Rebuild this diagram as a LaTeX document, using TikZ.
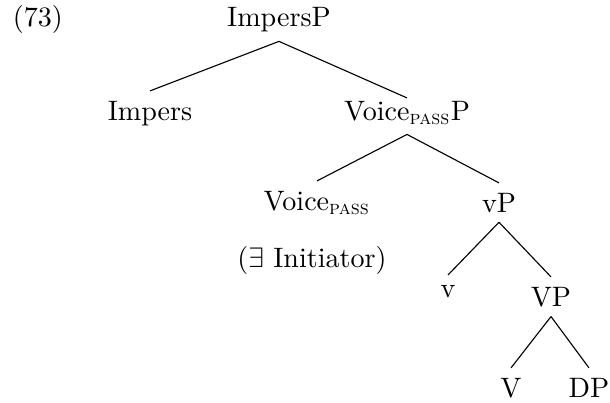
\documentclass[tikz,border=0pt]{standalone}
\usepackage{tikz}

\newcommand{\pass}{\textsubscript{\textsc{pass}}}

\begin{document}
\begin{tikzpicture}
[lab/.style={anchor=base}
,br/.style={draw=black,line width=0.4pt}
,x=0.356pt,y=-0.356pt]
\useasboundingbox (0,0) rectangle (610,402);
\node[anchor=base west] (ex) at (3,26) {(73)};
\node[lab] (impersp) at (279,26) {ImpersP};
\node[lab] (impers) at (150,120) {Impers};
\node[lab] (voicepp) at (407,120) {Voice\pass P};
\node[lab] (voicep) at (317,210) {Voice\pass};
\node[lab] (init) at (312,267) {($\exists$ Initiator)};
\node[lab] (vp) at (499,212) {vP};
\node[lab] (v) at (448,297) {v};
\node[lab] (bigvp) at (551,306) {VP};
\node[lab] (bigv) at (511,397) {V};
\node[lab] (dp) at (589,397) {DP};
\draw[br] (impersp.south) -- (impers.north);
\draw[br] (impersp.south) -- ([yshift=-2.5pt]voicepp.north);
\draw[br] (voicepp.south) -- (voicep.north);
\draw[br] (voicepp.south) -- (vp.north);
\draw[br] (vp.south) -- (v.north);
\draw[br] (vp.south) -- (bigvp.north);
\draw[br] (bigvp.south) -- (bigv.north);
\draw[br] (bigvp.south) -- (dp.north);
\end{tikzpicture}
\end{document}
